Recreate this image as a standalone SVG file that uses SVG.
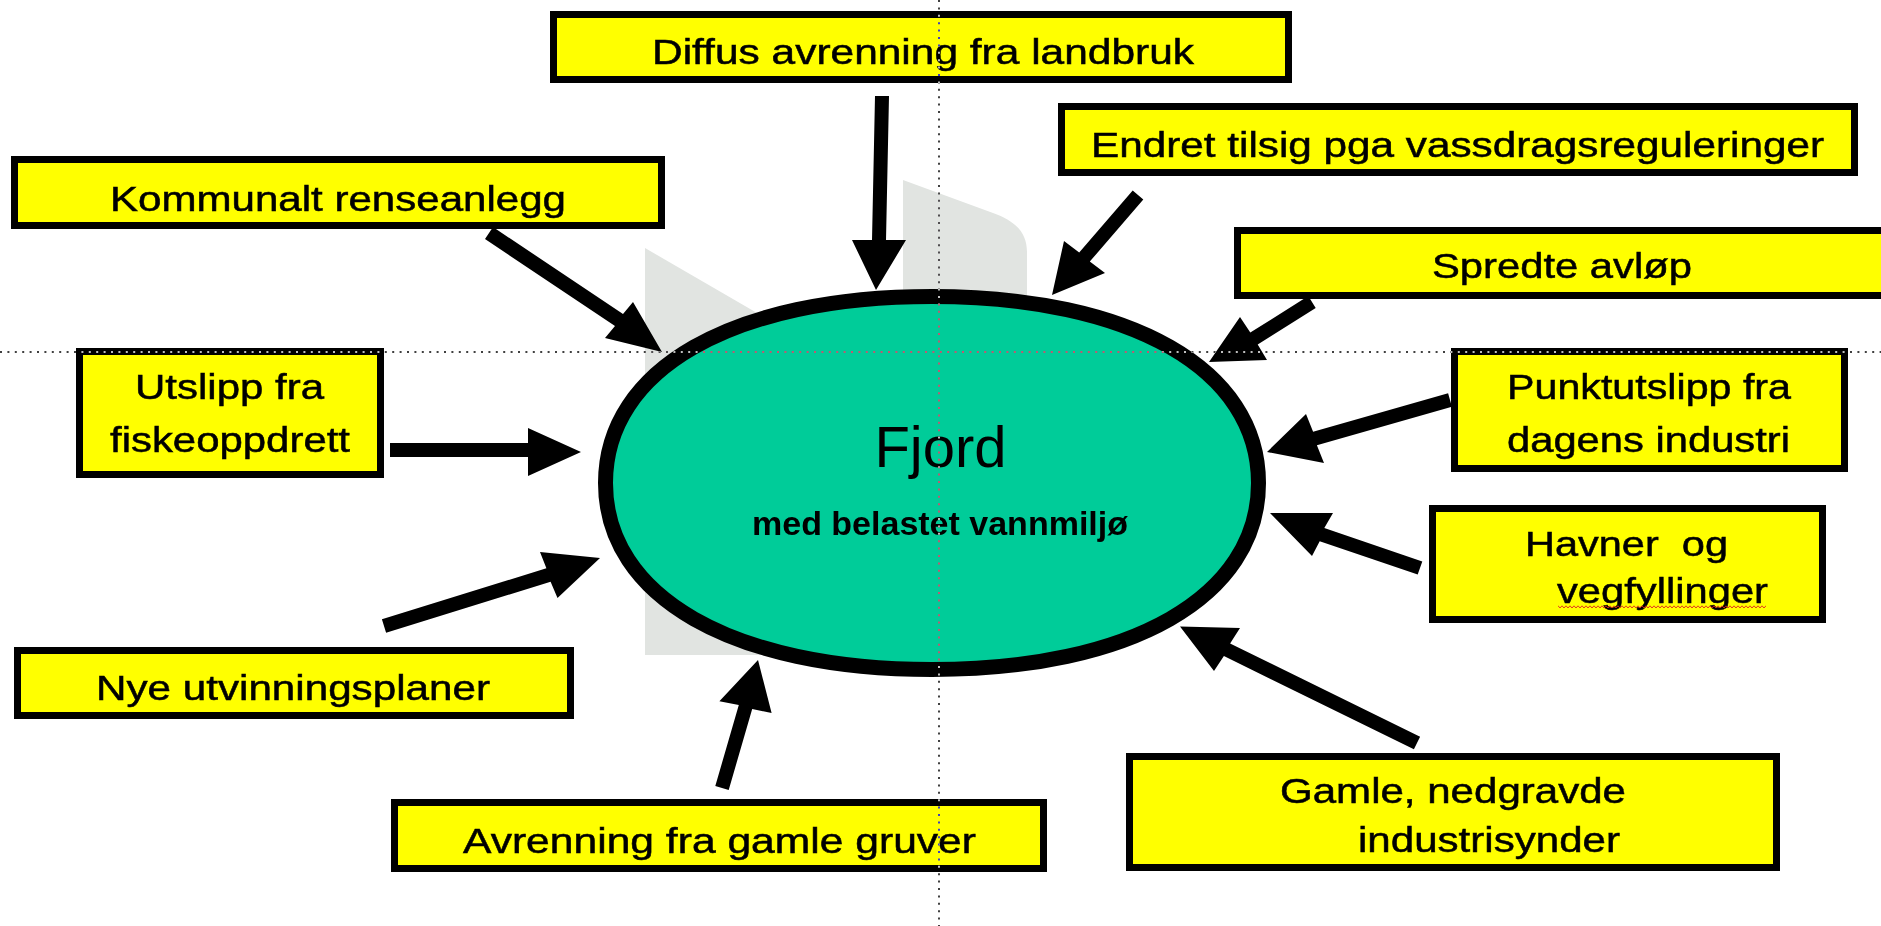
<svg xmlns="http://www.w3.org/2000/svg" width="1881" height="926" viewBox="0 0 1881 926">
<style>
.box{fill:#FFFF00;stroke:#000;stroke-width:7}
.t{font-family:"Liberation Sans",Arial,sans-serif;font-size:35px;fill:#000;stroke:#000;stroke-width:0.5}
.arr{fill:#000}
.shade{fill:#E1E4E1}
.guide{fill:none;stroke:#fff;stroke-width:2;stroke-dasharray:2 5.4;opacity:0.75;mix-blend-mode:difference}
</style>
<defs>
<pattern id="squig" width="4" height="4" patternUnits="userSpaceOnUse" x="0" y="605">
<polyline points="0,3 2,0.8 4,3" fill="none" stroke="#E02020" stroke-width="0.9"/>
</pattern>
</defs>
<rect width="1881" height="926" fill="#fff"/>
<g id="shadow">
<path class="shade" d="M645,248 L800,338 L800,600 L760,655 L645,655 Z"/>
<path class="shade" d="M903,180 L993,213 C1015,221 1027,232 1027,252 L1027,330 L903,330 Z"/>
</g>
<g id="connectors">
<polygon class="arr" points="875,96 889,96 886,240 906,240 876,290 852,240 872,240"/>
<polygon class="arr" points="485,239 493,227 623,314 633,302 662,352 605,338 615,326"/>
<polygon class="arr" points="1132.7,190.4 1079.2,252.4 1064,241 1052,295 1105,273 1089.8,261.6 1143.3,199.6"/>
<polygon class="arr" points="1308.3,296.1 1250.3,332.6 1240,317 1209,362 1267,360 1257.7,344.4 1315.7,307.9"/>
<polygon class="arr" points="1448.1,393.3 1313.1,431.8 1306,414 1267,452 1324,463 1316.9,445.2 1451.9,406.7"/>
<polygon class="arr" points="390,443 528,443 528,428 581,452 528,476 528,457 390,457"/>
<polygon class="arr" points="381.9,619.3 546.4,568.3 540,552 600,558 557.5,598 550.6,581.7 386.1,632.7"/>
<polygon class="arr" points="715.3,786 738.8,705 719.4,701.3 758,660 771.6,713 752.2,709 728.7,790"/>
<polygon class="arr" points="1422.3,561.4 1324.3,528.1 1333,513 1270,513 1312,556 1319.7,541.3 1417.7,574.6"/>
<polygon class="arr" points="1420.1,736.7 1230.1,643.5 1240,628 1180,626.5 1214,671 1223.9,656.1 1413.9,749.3"/>
</g>
<g id="fjord">
<path d="M1258.5,483 C1258.5,596.8 1131.2,669.5 932,669.5 C732.8,669.5 605.5,596.8 605.5,483 C605.5,369.2 732.8,296.5 932,296.5 C1131.2,296.5 1258.5,369.2 1258.5,483 Z" fill="#00CC99" stroke="#000" stroke-width="15"/>
<text x="940.5" y="467" text-anchor="middle" font-family="Liberation Sans, Arial, sans-serif" font-size="58" fill="#000">Fjord</text>
<text x="752" y="535" font-family="Liberation Sans, Arial, sans-serif" font-size="34" font-weight="bold" fill="#000" textLength="376" lengthAdjust="spacingAndGlyphs">med belastet vannmiljø</text>
</g>
<g id="diffus">
<rect class="box" x="553.5" y="14.5" width="735" height="65"/>
<text class="t" x="652" y="64" textLength="542" lengthAdjust="spacingAndGlyphs">Diffus avrenning fra landbruk</text>
</g>
<g id="kommunalt">
<rect class="box" x="14.5" y="159.5" width="647" height="66"/>
<text class="t" x="110" y="211" textLength="456" lengthAdjust="spacingAndGlyphs">Kommunalt renseanlegg</text>
</g>
<g id="endret">
<rect class="box" x="1061.5" y="106.5" width="793" height="66"/>
<text class="t" x="1091" y="157" textLength="733" lengthAdjust="spacingAndGlyphs">Endret tilsig pga vassdragsreguleringer</text>
</g>
<g id="spredte">
<rect class="box" x="1237.5" y="230.5" width="700" height="65"/>
<text class="t" x="1432" y="278" textLength="260" lengthAdjust="spacingAndGlyphs">Spredte avløp</text>
</g>
<g id="punktutslipp">
<rect class="box" x="1454.5" y="351.5" width="390" height="117"/>
<text class="t" x="1507" y="399" textLength="284" lengthAdjust="spacingAndGlyphs">Punktutslipp fra</text>
<text class="t" x="1507" y="452" textLength="283" lengthAdjust="spacingAndGlyphs">dagens industri</text>
</g>
<g id="utslipp">
<rect class="box" x="79.5" y="351.5" width="301" height="123"/>
<text class="t" x="135" y="399" textLength="189" lengthAdjust="spacingAndGlyphs">Utslipp fra</text>
<text class="t" x="110" y="452" textLength="240" lengthAdjust="spacingAndGlyphs">fiskeoppdrett</text>
</g>
<g id="nye">
<rect class="box" x="17.5" y="650.5" width="553" height="65"/>
<text class="t" x="96" y="700" textLength="394" lengthAdjust="spacingAndGlyphs">Nye utvinningsplaner</text>
</g>
<g id="avrenning">
<rect class="box" x="394.5" y="802.5" width="649" height="66"/>
<text class="t" x="463" y="853" textLength="513" lengthAdjust="spacingAndGlyphs">Avrenning fra gamle gruver</text>
</g>
<g id="havner">
<rect class="box" x="1432.5" y="508.5" width="390" height="111"/>
<text class="t" x="1525" y="556" textLength="203" lengthAdjust="spacingAndGlyphs">Havner&#160; og</text>
<text class="t" x="1557" y="603" textLength="211" lengthAdjust="spacingAndGlyphs">vegfyllinger</text>
<rect x="1558" y="605" width="208" height="4" fill="url(#squig)"/>
</g>
<g id="gamle">
<rect class="box" x="1129.5" y="756.5" width="647" height="111"/>
<text class="t" x="1280" y="803" textLength="346" lengthAdjust="spacingAndGlyphs">Gamle, nedgravde</text>
<text class="t" x="1358" y="852" textLength="262" lengthAdjust="spacingAndGlyphs">industrisynder</text>
</g>
<g id="guides">
<line class="guide" x1="0" y1="352" x2="1881" y2="352"/>
<line class="guide" x1="939" y1="0" x2="939" y2="926"/>
</g>
</svg>
